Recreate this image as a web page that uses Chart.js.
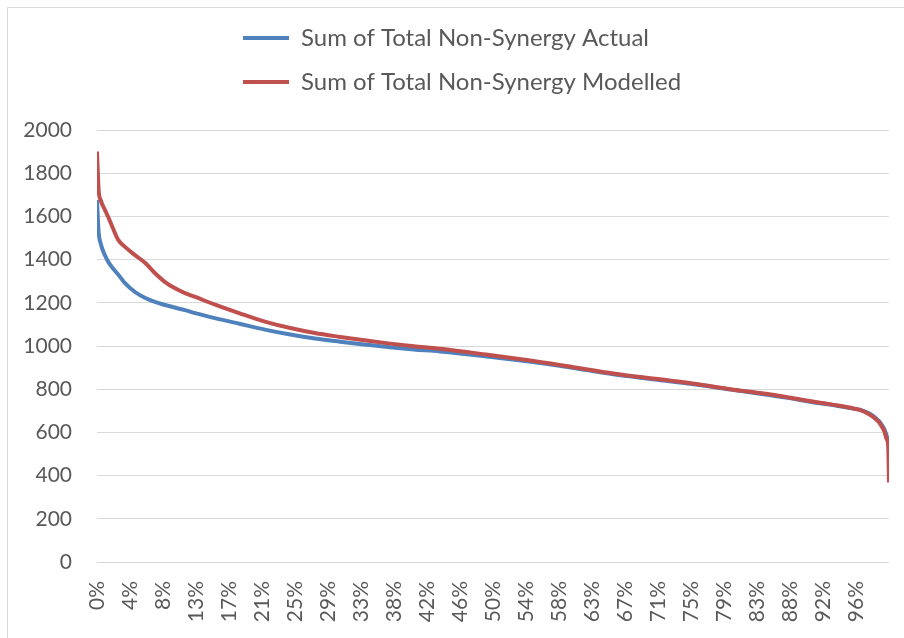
<!DOCTYPE html>
<html>
<head>
<meta charset="utf-8">
<script src="https://cdn.jsdelivr.net/npm/chart.js@4/dist/chart.umd.min.js"></script>
<style>
  html, body { margin: 0; padding: 0; background: #fff; overflow: hidden; }
  #wrap { position: relative; width: 904px; height: 638px; }
  #frame { position: absolute; left: 7px; top: 7px; width: 1000px; height: 1000px; border: 1px solid #d9d9d9; }
  #chart { position: absolute; left: 0; top: 0; }
</style>
</head>
<body>
<div id="wrap">
  <div id="frame"></div>
  <canvas id="chart" width="904" height="638"></canvas>
</div>
<script>
// percentile rank of each sampled point (0 = first, 1 = last)
const pctRank = [
  0.000, 0.002, 0.005, 0.010, 0.015, 0.020, 0.027, 0.035, 0.048, 0.061,
  0.073, 0.086, 0.098, 0.111, 0.124, 0.150, 0.181, 0.212, 0.244, 0.275,
  0.307, 0.340, 0.370, 0.400, 0.433, 0.490, 0.543, 0.600, 0.652, 0.705,
  0.761, 0.800, 0.837, 0.870, 0.900, 0.925, 0.938, 0.955, 0.963, 0.972,
  0.980, 0.986, 0.989, 0.994, 0.997, 0.999, 1.000
];
const actual = [
  1676, 1530, 1470, 1420, 1385, 1360, 1330, 1292, 1250, 1222,
  1204, 1190, 1178, 1166, 1152, 1128, 1102, 1076, 1053, 1035,
  1020, 1006, 994, 984, 975, 953, 929, 899, 869, 845,
  819, 798, 779, 761, 742, 729, 721, 710, 705, 693,
  676, 657, 645, 615, 585, 562, 545
];
const modelled = [
  1900, 1725, 1672, 1630, 1590, 1546, 1490, 1460, 1421, 1384,
  1338, 1296, 1268, 1245, 1227, 1190, 1150, 1113, 1083, 1060,
  1042, 1025, 1011, 999, 987, 961, 935, 903, 873, 848,
  822, 800, 782, 764, 745, 731, 723, 711, 704, 690,
  672, 652, 638, 606, 570, 535, 368
];
const tickLabels = ["0%","4%","8%","13%","17%","21%","25%","29%","33%","38%","42%","46%",
                    "50%","54%","58%","63%","67%","71%","75%","79%","83%","88%","92%","96%"];
const yTicks = [0, 200, 400, 600, 800, 1000, 1200, 1400, 1600, 1800, 2000];

const FONT = "Lato, 'Open Sans', sans-serif";
const GREY = "#595959";

// one legend item per row, both rows starting at the same x, fixed legend height
const legendLayout = {
  id: "legendLayout",
  beforeLayout(chart) {
    const lg = chart.legend;
    if (!lg || lg._patched) return;
    const fit = lg.fit;
    lg.fit = function () {
      const mw = this.maxWidth;
      this.maxWidth = 500;
      fit.call(this);
      this.maxWidth = mw;
      this.width = mw;
      this.height = 124;
    };
    lg._patched = true;
  },
  beforeDraw(chart) {
    const lg = chart.legend;
    const pad = lg.options.labels.padding;
    const w = lg.left + pad + lg.right - 2 * 243;
    lg.lineWidths = lg.lineWidths.map(() => w);
  }
};

new Chart(document.getElementById("chart"), {
  type: "line",
  data: {
    datasets: [
      {
        label: "Sum of Total Non-Synergy Actual",
        data: pctRank.map((x, i) => ({ x, y: actual[i] })),
        borderColor: "#4f81bd",
        backgroundColor: "#4f81bd",
        borderWidth: 4,
        pointRadius: 0,
        cubicInterpolationMode: "monotone",
        order: 1
      },
      {
        label: "Sum of Total Non-Synergy Modelled",
        data: pctRank.map((x, i) => ({ x, y: modelled[i] })),
        borderColor: "#c0504d",
        backgroundColor: "#c0504d",
        borderWidth: 4,
        pointRadius: 0,
        cubicInterpolationMode: "monotone",
        order: 0
      }
    ]
  },
  options: {
    responsive: false,
    animation: false,
    layout: { padding: { top: 6, right: 15, left: 0, bottom: 0 } },
    plugins: {
      legend: {
        position: "top",
        align: "center",
        labels: {
          font: { family: FONT, size: 24 },
          color: GREY,
          padding: 20,
          usePointStyle: true,
          pointStyle: "line",
          pointStyleWidth: 46,
          boxHeight: 24,
          sort: (a, b) => a.datasetIndex - b.datasetIndex
        }
      },
      tooltip: { enabled: false }
    },
    scales: {
      x: {
        type: "linear",
        min: 0,
        max: 1,
        grid: { display: false, drawTicks: false },
        border: { display: false },
        afterBuildTicks: s => { s.ticks = tickLabels.map((_, i) => ({ value: i / tickLabels.length })); },
        afterFit: s => { s.height = 76; },
        ticks: {
          autoSkip: false,
          minRotation: 90,
          maxRotation: 90,
          padding: 19,
          color: GREY,
          font: { family: FONT, size: 21 },
          callback: (v, i) => tickLabels[i]
        }
      },
      y: {
        min: 0,
        max: 2000,
        afterBuildTicks: s => { s.ticks = yTicks.map(v => ({ value: v })); },
        afterFit: s => { s.width = 97; },
        grid: { color: "#d9d9d9", lineWidth: 1, drawTicks: false },
        border: { display: false },
        ticks: {
          padding: 25,
          color: GREY,
          font: { family: FONT, size: 21 },
          callback: v => String(v)
        }
      }
    }
  },
  plugins: [legendLayout]
});
</script>
</body>
</html>
